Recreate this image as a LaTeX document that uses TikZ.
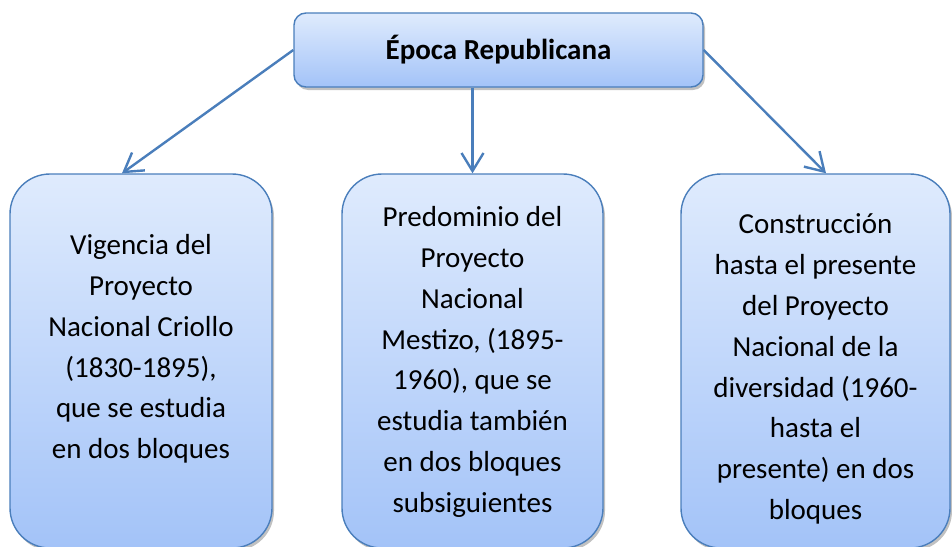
\documentclass[tikz,border=0pt]{standalone}
\usepackage{fontspec}
\setmainfont{Carlito}
\usetikzlibrary{arrows.meta,shadows,calc}
\definecolor{edgec}{RGB}{74,126,187}
\definecolor{topc}{RGB}{223,235,253}
\definecolor{botc}{RGB}{163,195,248}
\begin{document}
\begin{tikzpicture}[x=1pt,y=-1pt,
  box/.style={draw=edgec, line width=1.4pt, top color=topc, bottom color=botc,
    drop shadow={shadow xshift=2pt, shadow yshift=-3pt, opacity=0.35, fill=black!70},
    inner sep=0pt},
  lowbox/.style={box, rounded corners=40pt, minimum height=374pt},
  txt/.style={font=\fontsize{29}{40.8}\selectfont, align=center, text=black, inner sep=0pt},
  arr/.style={draw=edgec, line width=2.4pt, -{Straight Barb[length=18pt,width=22pt]}}]
\useasboundingbox (0,0) rectangle (952,546);
% boxes
\node[box, rounded corners=12pt, minimum width=409pt, minimum height=74pt,
  font=\fontsize{29}{34}\selectfont\bfseries] (top) at (498.5,50) {Época Republicana};
\node[lowbox, minimum width=262pt] (left) at (141,361) {};
\node[lowbox, minimum width=261pt] (mid) at (472.5,361) {};
\node[lowbox, minimum width=269pt] (right) at (815.5,361) {};
% texts
\node[txt] (lefttxt) at (141,349) {Vigencia del\\Proyecto\\Nacional Criollo\\(1830-1895),\\que se estudia\\en dos bloques};
\node[txt] (midtxt) at (472.5,362) {Predominio del\\Proyecto\\Nacional\\Mestizo, (1895-\\1960), que se\\estudia también\\en dos bloques\\subsiguientes};
\node[txt] (righttxt) at (815.5,369) {Construcción\\hasta el presente\\del Proyecto\\Nacional de la\\diversidad (1960-\\hasta el\\presente) en dos\\bloques};
% connectors
\draw[arr] (top.west) -- ([xshift=-19pt]left.north);
\draw[arr] (mid.north |- top.south) -- (mid.north);
\draw[arr] (top.east) -- ([xshift=10.5pt]right.north);
\end{tikzpicture}
\end{document}
